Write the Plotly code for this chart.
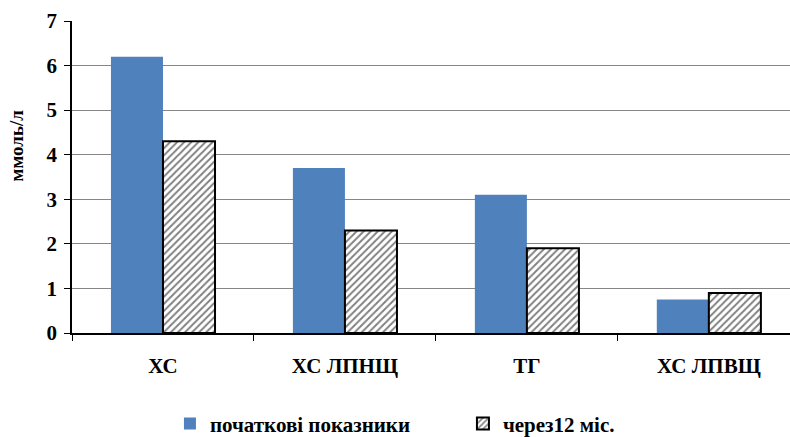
import plotly.graph_objects as go

categories = ["ХС", "ХС ЛПНЩ", "ТГ", "ХС ЛПВЩ"]
baseline = [6.2, 3.7, 3.1, 0.75]
after_12m = [4.3, 2.3, 1.9, 0.9]
y_ticks = [0, 1, 2, 3, 4, 5, 6, 7]
series_names = ["початкові показники", "через12 міс."]
y_title = "ммоль/л"

FONT = "Liberation Serif, Times New Roman, serif"

fig = go.Figure()
fig.add_trace(go.Bar(
    x=categories, y=baseline, name=f"<b>{series_names[0]}</b>",
    marker=dict(color="#4F81BD", line=dict(width=0)),
))
fig.add_trace(go.Bar(
    x=categories, y=after_12m, name=f"<b>{series_names[1]}</b>",
    marker=dict(
        color="white",
        line=dict(color="black", width=2),
        pattern=dict(shape="/", fgcolor="black", bgcolor="white", size=5, solidity=0.38),
    ),
))

fig.update_layout(
    width=790, height=437,
    margin=dict(l=72, r=0, t=21, b=104),
    paper_bgcolor="white", plot_bgcolor="white",
    barmode="group", bargap=0.428, bargroupgap=0,
    font=dict(family=FONT, color="black"),
    showlegend=True,
    legend=dict(
        orientation="h", xref="container", yref="container",
        x=0.586, xanchor="center", y=0.03, yanchor="middle",
        font=dict(family=FONT, size=21, color="black"),
        entrywidth=248, itemwidth=30,
    ),
    xaxis=dict(
        range=[-0.5, 3.446],
        showline=True, linecolor="black", linewidth=1.5,
        ticks="outside", tickson="boundaries", ticklen=6, tickcolor="black",
        tickfont=dict(family=FONT, size=21, color="black", weight="bold"),
        ticklabelstandoff=13,
        showgrid=False,
    ),
    yaxis=dict(
        range=[0, 7], tickvals=y_ticks,
        showline=True, linecolor="black", linewidth=1.5,
        ticks="outside", ticklen=6, tickcolor="black",
        tickfont=dict(family=FONT, size=21, color="black", weight="bold"),
        ticklabelstandoff=3,
        showgrid=True, gridcolor="#868686", gridwidth=1,
        zeroline=False,
    ),
)

fig.add_annotation(
    text=f"<b>{y_title}</b>", xref="paper", yref="paper",
    x=-0.077, y=0.6, xanchor="center", yanchor="middle",
    textangle=-90, showarrow=False,
    font=dict(family=FONT, size=19, color="black"),
)

fig.write_html("out.html")
